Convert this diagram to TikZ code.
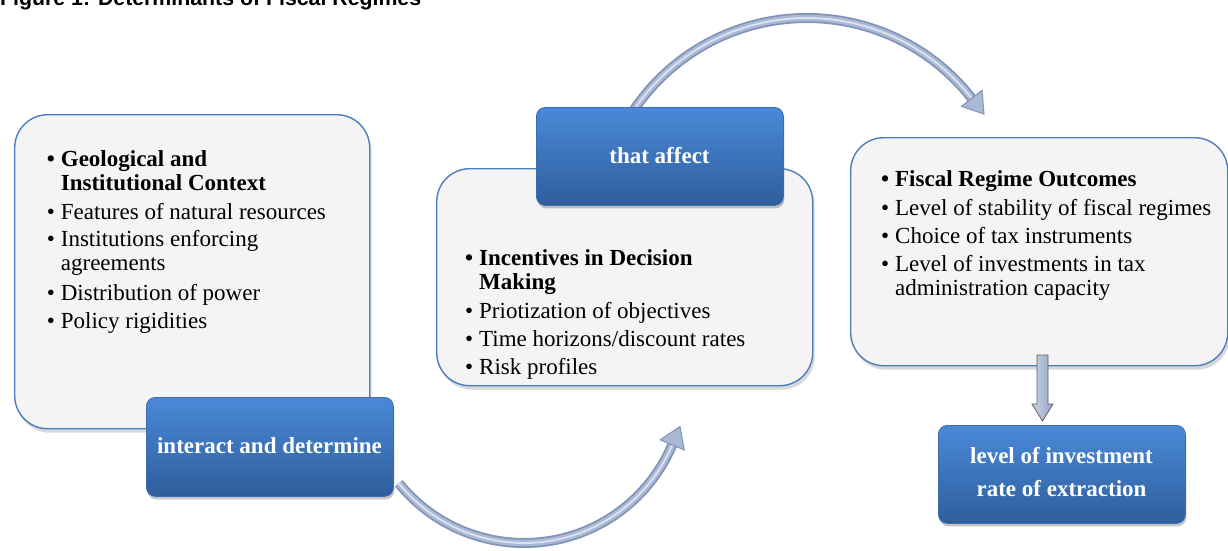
\documentclass[tikz,border=0pt]{standalone}
\usepackage{fontspec}
\setmainfont{Liberation Serif}
\newfontfamily\titlefont{Liberation Sans}
\usetikzlibrary{shadows}
\definecolor{boxfill}{HTML}{F4F4F4}
\definecolor{boxline}{HTML}{4A7EC0}
\definecolor{bluetop}{HTML}{4A89D8}
\definecolor{bluebot}{HTML}{2E5E9C}
\definecolor{blueline}{HTML}{3A6CB0}
\definecolor{tubeout}{HTML}{8193B6}
\definecolor{tubemid}{HTML}{A9B8D4}
\definecolor{tubehi}{HTML}{D9E0EE}
\definecolor{arrowl}{HTML}{C9D3E4}
\definecolor{arrowr}{HTML}{93A5C6}
\newcommand{\bul}{\llap{\textbullet\kern6pt}}
\tikzset{
  graybox/.style={draw=boxline, line width=1.4pt, fill=boxfill, rounded corners=33pt,
    drop shadow={opacity=0.3, shadow xshift=2pt, shadow yshift=-4pt}, inner sep=0pt, anchor=north west},
  bluebox/.style={draw=blueline, line width=0.8pt, top color=bluetop, bottom color=bluebot, rounded corners=9pt,
    drop shadow={opacity=0.45, shadow xshift=1pt, shadow yshift=-3pt}, inner sep=0pt, anchor=north west},
  txt/.style={anchor=base west, inner sep=0pt, font=\fontsize{23}{23}\selectfont},
  btxt/.style={anchor=base west, inner sep=0pt, font=\fontsize{23}{23}\selectfont\bfseries},
  wtxt/.style={anchor=base, inner sep=0pt, text=white, font=\fontsize{23}{23}\selectfont\bfseries},
  tube/.style={preaction={draw=tubeout, line width=10pt}, preaction={draw=tubemid, line width=6.5pt},
    draw=tubehi, line width=2pt},
  tubehead/.style={fill=tubemid, draw=tubeout, line width=1pt, line join=miter},
}
\begin{document}
\begin{tikzpicture}[x=1pt, y=-1pt]
\begin{scope}
\clip (0,0) rectangle (1228,551);
\fill[white] (0,0) rectangle (1228,551);
% title (cut at top)
\node[anchor=base west, inner sep=0pt, font=\titlefont\bfseries\fontsize{21.3}{22}\selectfont] (title) at (0,5.5) {Figure 1: Determinants of Fiscal Regimes};

% box 1
\node[graybox, minimum width=355pt, minimum height=314pt] (ctx) at (14,114) {};
\node[btxt] (c1) at (60.7,166.7) {\bul Geological and};
\node[btxt] (c2) at (60.7,190) {Institutional Context};
\node[txt] (c3) at (60.7,219) {\bul Features of natural resources};
\node[txt] (c4) at (60.7,246.7) {\bul Institutions enforcing};
\node[txt] (c5) at (60.7,270.7) {agreements};
\node[txt] (c6) at (60.7,300) {\bul Distribution of power};
\node[txt] (c7) at (60.7,328) {\bul Policy rigidities};

% bottom arc
\coordinate (a1s) at (398.9,483.3);
\path[tube] (a1s) arc[start angle=141, end angle=23, radius=161] coordinate (a1e);
\coordinate (a1tip) at (680.0,426.5);
\coordinate (a1c1) at (684.2,450.0);
\coordinate (a1c2) at (660.2,439.8);
\draw[tubehead] (a1tip) -- (a1c1) -- (a1c2) -- cycle;

\node[bluebox, minimum width=247pt, minimum height=99pt] (interact) at (146,397) {};
\node[wtxt] (interactT) at (269.5,453.3) {interact and determine};

% box 2
\node[graybox, minimum width=376pt, minimum height=217pt] (inc) at (436,168) {};
\node[btxt] (i1) at (479,265) {\bul Incentives in Decision};
\node[btxt] (i2) at (479,289) {Making};
\node[txt] (i3) at (479,318) {\bul Priotization of objectives};
\node[txt] (i4) at (479,346) {\bul Time horizons/discount rates};
\node[txt] (i5) at (479,374) {\bul Risk profiles};

% top arc
\coordinate (a2s) at (626.0,122.5);
\path[tube] (a2s) arc[start angle=210, end angle=322, radius=209] coordinate (a2e);
\coordinate (a2tip) at (984.0,114.1);
\coordinate (a2c1) at (982.0,90.3);
\coordinate (a2c2) at (961.5,106.3);
\draw[tubehead] (a2tip) -- (a2c1) -- (a2c2) -- cycle;

\node[bluebox, minimum width=247pt, minimum height=98pt] (affect) at (536,107) {};
\node[wtxt] (affectT) at (659.5,163.3) {that affect};

% box 3
\node[graybox, minimum width=377pt, minimum height=228pt] (out) at (850,137) {};
\node[btxt] (o1) at (895,186.7) {\bul Fiscal Regime Outcomes};
\node[txt] (o2) at (895,215) {\bul Level of stability of fiscal regimes};
\node[txt] (o3) at (895,243.3) {\bul Choice of tax instruments};
\node[txt] (o4) at (895,271.7) {\bul Level of investments in tax};
\node[txt] (o5) at (895,295.7) {administration capacity};

% down arrow
\coordinate (d1) at (1037,355);
\coordinate (d2) at (1048,355);
\coordinate (d3) at (1048,404);
\coordinate (d4) at (1053,404);
\coordinate (dtip) at (1042.5,421);
\coordinate (d6) at (1032,404);
\coordinate (d7) at (1037,404);
\draw[draw=gray!75!black, line width=0.8pt, left color=arrowl, right color=arrowr, line join=miter]
  (d1) -- (d2) -- (d3) -- (d4) -- (dtip) -- (d6) -- (d7) -- cycle;

\node[bluebox, minimum width=247pt, minimum height=98pt] (level) at (938,425) {};
\node[wtxt] (levelT1) at (1061.5,463.3) {level of investment};
\node[wtxt] (levelT2) at (1061.5,496.7) {rate of extraction};
\end{scope}
\pgfresetboundingbox
\useasboundingbox (0,0) rectangle (1228,551);
\end{tikzpicture}
\end{document}
